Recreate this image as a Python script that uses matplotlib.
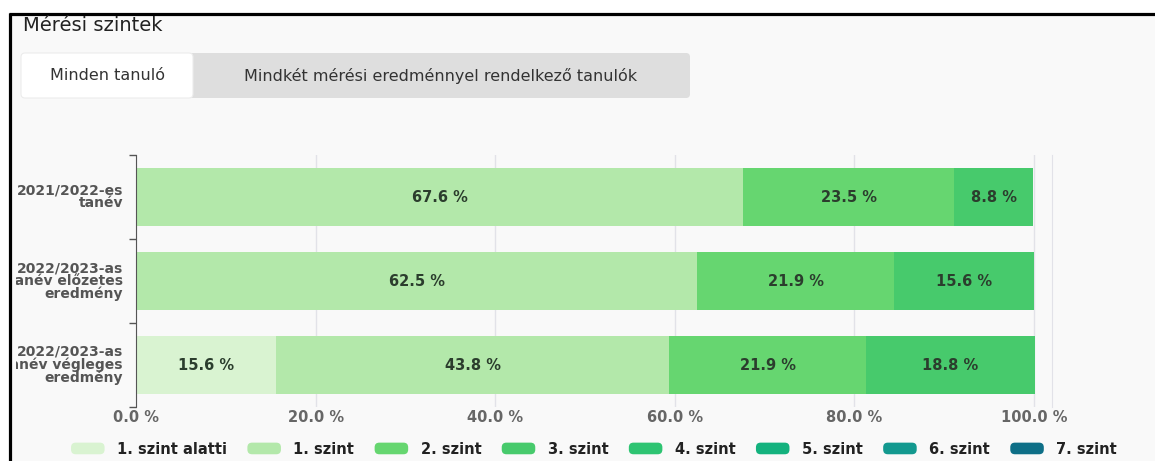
import numpy as np
from matplotlib import pyplot as plt
from matplotlib.patches import Patch, FancyBboxPatch, Rectangle
from matplotlib.legend_handler import HandlerPatch
from matplotlib.transforms import Bbox, TransformedBbox, blended_transform_factory

# data
rows = ['2021/2022-es\ntanév',
        '2022/2023-as\ntanév előzetes\neredmény',
        '2022/2023-as\ntanév végleges\neredmény']
levels = ['1. szint alatti', '1. szint', '2. szint', '3. szint',
          '4. szint', '5. szint', '6. szint', '7. szint']
colors = ['#d9f3d1', '#b3e8aa', '#66d670', '#47ca6c',
          '#2ec472', '#14b27e', '#13998f', '#0e6f87']
szint_alatti = [0, 0, 15.6]
szint_1 = [67.6, 62.5, 43.8]
szint_2 = [23.5, 21.9, 21.9]
szint_3 = [8.8, 15.6, 18.8]
szint_4 = [0, 0, 0]
szint_5 = [0, 0, 0]
szint_6 = [0, 0, 0]
szint_7 = [0, 0, 0]
values = [szint_alatti, szint_1, szint_2, szint_3, szint_4, szint_5, szint_6, szint_7]
xticks = [0, 20, 40, 60, 80, 100]

W, H = 1155, 461
fig = plt.figure(figsize=(W / 100, H / 100), dpi=100)
fig.patch.set_facecolor('white')

# page background, frame and tabs (pixel coords)
page = fig.add_axes([0, 0, 1, 1], zorder=0)
page.set_xlim(0, W)
page.set_ylim(H, 0)
page.axis('off')
page.add_patch(Rectangle((10, 14), W - 10, H - 14, facecolor='#f9f9f9', edgecolor='none'))
page.plot([9, W], [14, 14], color='black', lw=2.3, solid_capstyle='butt')
page.plot([10, 10], [13, H], color='black', lw=2.3, solid_capstyle='butt')
page.text(23, 31, 'Mérési szintek', fontsize=14, color='#222222', va='baseline', ha='left')
page.add_patch(FancyBboxPatch((185, 53), 505, 45, boxstyle='round,pad=0,rounding_size=4',
                              facecolor='#dedede', edgecolor='none'))
page.add_patch(FancyBboxPatch((21, 53), 172, 45, boxstyle='round,pad=0,rounding_size=4',
                              facecolor='white', edgecolor='#ececec', lw=0.8))
page.text(107, 76, 'Minden tanuló', fontsize=11.5, color='#333333', ha='center', va='center')
page.text(441, 76, 'Mindkét mérési eredménnyel rendelkező tanulók', fontsize=11.5,
          color='#333333', ha='center', va='center')

# the bar chart
ax = fig.add_axes([136 / W, 1 - 407 / H, 916 / W, 252 / H], zorder=1)
ax.set_facecolor('none')
y = np.arange(len(rows))
left = np.zeros(len(rows))
for vals, col in zip(values, colors):
    vals = np.array(vals)
    bars = ax.barh(y, vals, left=left, height=0.68, color=col, zorder=2)
    for b, v in zip(bars, vals):
        if v > 0:
            ax.text(b.get_x() + b.get_width() / 2, b.get_y() + b.get_height() / 2,
                    f'{v:.1f} %', ha='center', va='center', fontsize=10.5,
                    fontweight='bold', color='#2b3d2d', zorder=3)
    left = left + vals

ax.set_xlim(0, 102)
ax.set_ylim(len(rows) - 0.5, -0.5)
ax.set_xticks(xticks)
ax.set_xticklabels([f'{t:.1f} %' for t in xticks], fontsize=10.5, fontweight='bold', color='#666666')
ax.tick_params(axis='x', length=0, pad=2)
ax.set_yticks(np.arange(len(rows) + 1) - 0.5)
ax.set_yticklabels([])
ax.tick_params(axis='y', length=5, color='#555555', width=1)
ax.grid(axis='x', color='#e2e2e8', lw=1, zorder=0)
for s in ['top', 'bottom']:
    ax.spines[s].set_visible(False)
ax.spines['left'].set_color('#555555')
ax.spines['right'].set_color('#e2e2e8')

# row labels, cut off by the frame like in the screenshot
tr = blended_transform_factory(fig.transFigure, ax.transData)
clip = TransformedBbox(Bbox.from_extents(16 / W, 0, 1, 1), fig.transFigure)
for yi, lab in zip(y, rows):
    t = ax.text(123 / W, yi, lab, transform=tr, ha='right', va='center', multialignment='right',
                fontsize=10, fontweight='bold', color='#555555', linespacing=0.87)
    t.set_clip_box(clip)
    t.set_clip_on(True)


class RoundBox(HandlerPatch):
    def create_artists(self, legend, orig, xdescent, ydescent, width, height, fontsize, trans):
        p = FancyBboxPatch((-xdescent, -ydescent), width, height,
                           boxstyle=f'round,pad=0,rounding_size={height * 0.4}',
                           facecolor=orig.get_facecolor(), edgecolor='none', transform=trans)
        return [p]


handles = [Patch(facecolor=c) for c in colors]
leg = fig.legend(handles, levels, loc='center', bbox_to_anchor=(594 / W, 1 - 449 / H), ncol=8,
                 frameon=False, handler_map={Patch: RoundBox()},
                 prop={'size': 10.5, 'weight': 'bold'},
                 handlelength=2.3, handleheight=0.85, handletextpad=0.85, columnspacing=1.4)
for t in leg.get_texts():
    t.set_color('#222222')

plt.savefig('out.png', dpi=100, facecolor=fig.get_facecolor())
